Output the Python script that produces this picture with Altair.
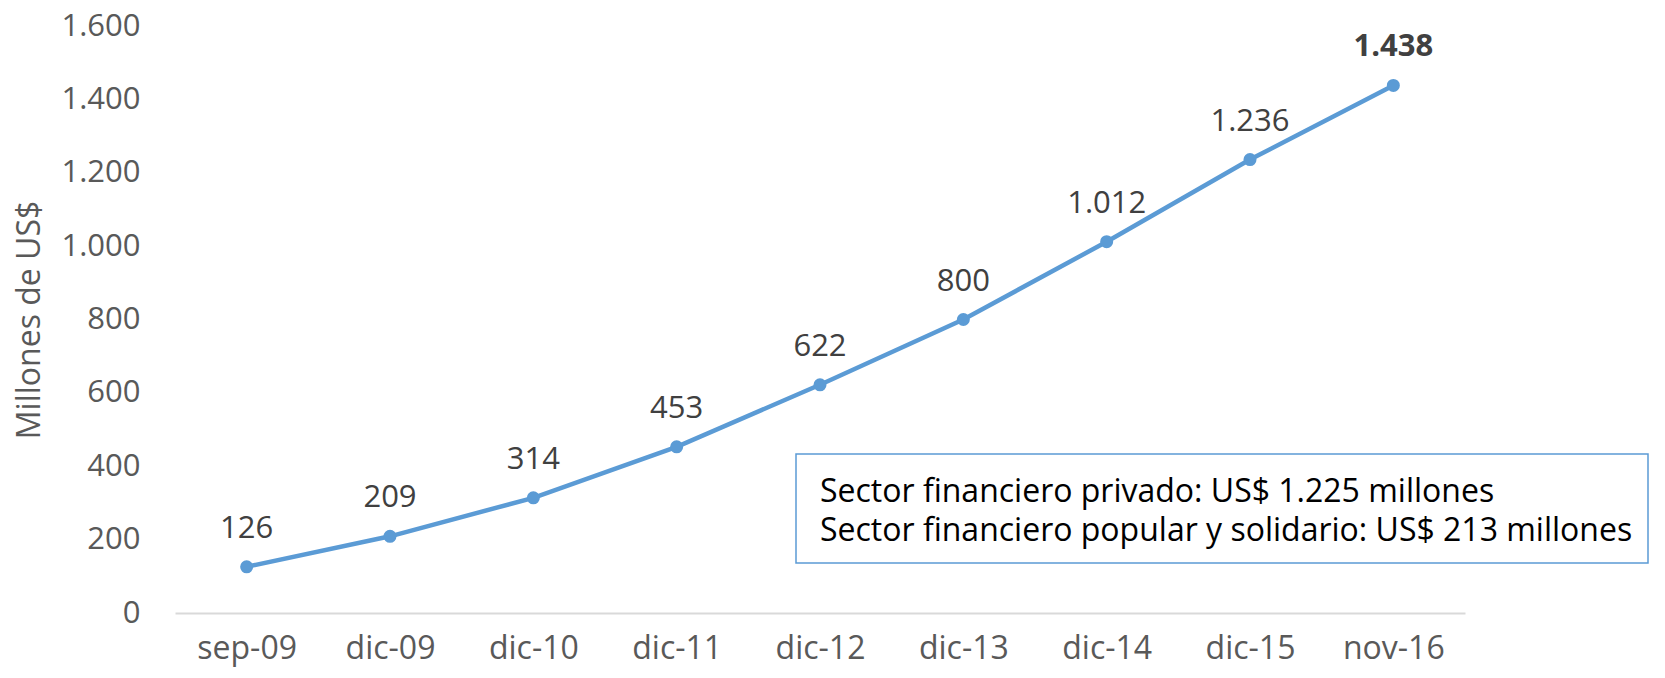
import altair as alt
import pandas as pd

categories = ["sep-09", "dic-09", "dic-10", "dic-11", "dic-12", "dic-13", "dic-14", "dic-15", "nov-16"]
values = [126, 209, 314, 453, 622, 800, 1012, 1236, 1438]
y_ticks = [0, 200, 400, 600, 800, 1000, 1200, 1400, 1600]
box_lines = [
    "Sector financiero privado: US$ 1.225 millones",
    "Sector financiero popular y solidario: US$ 213 millones",
]

df = pd.DataFrame({"cat": categories, "val": values})
df["label"] = [f"{v:,}".replace(",", ".") for v in values]
df["last"] = [i == len(values) - 1 for i in range(len(values))]

FONT = "Open Sans"
W, H = 1290, 587
BLUE = "#5B9BD5"

x_enc = alt.X("cat:N", sort=categories, title=None,
              scale=alt.Scale(type="point", padding=0.5),
              axis=alt.Axis(labelAngle=0, labelFont=FONT, labelFontSize=32,
                            labelColor="#595959", labelPadding=20, ticks=False,
                            domainColor="#D9D9D9", domainWidth=2, grid=False))
y_enc = alt.Y("val:Q", title="Millones de US$",
              scale=alt.Scale(domain=[0, 1600], nice=False),
              axis=alt.Axis(values=y_ticks, domain=False, ticks=False, grid=False,
                            labelFont=FONT, labelFontSize=31, labelColor="#595959",
                            labelPadding=35,
                            labelExpr="replace(format(datum.value, ','), ',', '.')",
                            titleFont=FONT, titleFontSize=32, titleColor="#595959",
                            titleFontWeight="normal", titleX=-146, titleY=H / 2,
                            titleBaseline="middle", titleAngle=270))

base = alt.Chart(df)

line = base.mark_line(color=BLUE, strokeWidth=4.5).encode(x=x_enc, y=y_enc)
pts = base.mark_point(color=BLUE, filled=True, opacity=1, size=170).encode(x=x_enc, y=y_enc)

labels = base.transform_filter("!datum.last").mark_text(
    font=FONT, fontSize=31, color="#404040", dy=-38, baseline="middle"
).encode(x=x_enc, y=y_enc, text="label:N")
last_label = base.transform_filter("datum.last").mark_text(
    font=FONT, fontSize=31, color="#404040", fontWeight="bold", dy=-38, baseline="middle"
).encode(x=x_enc, y=y_enc, text="label:N")

box = alt.Chart(pd.DataFrame({"k": [0]})).mark_rect(
    fill="white", stroke=BLUE, strokeWidth=1.5
).encode(x=alt.value(621), x2=alt.value(1473), y=alt.value(428), y2=alt.value(537))

box_df = pd.DataFrame({"line": box_lines, "row": [0, 1]})
box_text1 = alt.Chart(box_df).transform_filter("datum.row == 0").mark_text(
    font=FONT, fontSize=32, color="#000000", align="left", baseline="middle"
).encode(x=alt.value(645), y=alt.value(466), text="line:N")
box_text2 = alt.Chart(box_df).transform_filter("datum.row == 1").mark_text(
    font=FONT, fontSize=32, color="#000000", align="left", baseline="middle"
).encode(x=alt.value(645), y=alt.value(505), text="line:N")

chart = alt.layer(line, pts, labels, last_label, box, box_text1, box_text2).properties(
    width=W, height=H,
    autosize=alt.AutoSizeParams(type="none"),
    padding={"left": 167, "top": 18, "right": 192, "bottom": 57},
    background="white",
).configure_view(stroke=None, strokeWidth=0)

chart.save("out.html", embed_options={"renderer": "svg", "actions": False})
